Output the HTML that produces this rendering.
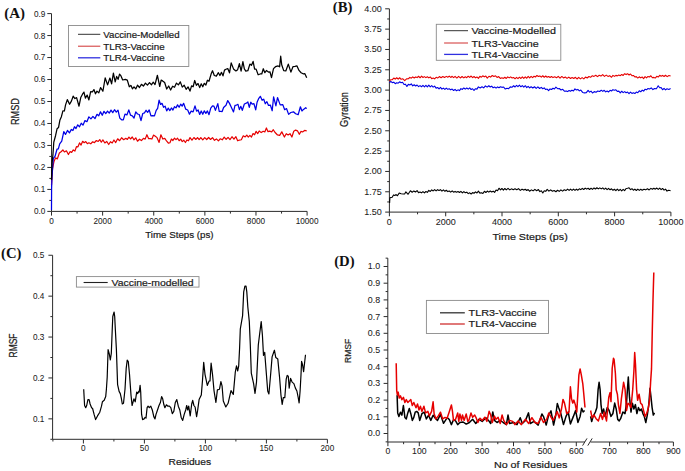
<!DOCTYPE html>
<html><head><meta charset="utf-8"><style>
html,body{margin:0;padding:0;background:#fff;width:685px;height:471px;overflow:hidden}
svg{display:block}

</style></head><body>
<svg width="685" height="471" viewBox="0 0 685 471">
<rect width="685" height="471" fill="#fff"/>
<line x1="51.50" y1="211.40" x2="51.50" y2="13.58" stroke="#2b2b2b" stroke-width="1"/>
<line x1="47.30" y1="211.40" x2="51.50" y2="211.40" stroke="#2b2b2b" stroke-width="1"/>
<line x1="47.30" y1="189.42" x2="51.50" y2="189.42" stroke="#2b2b2b" stroke-width="1"/>
<line x1="47.30" y1="167.44" x2="51.50" y2="167.44" stroke="#2b2b2b" stroke-width="1"/>
<line x1="47.30" y1="145.46" x2="51.50" y2="145.46" stroke="#2b2b2b" stroke-width="1"/>
<line x1="47.30" y1="123.48" x2="51.50" y2="123.48" stroke="#2b2b2b" stroke-width="1"/>
<line x1="47.30" y1="101.50" x2="51.50" y2="101.50" stroke="#2b2b2b" stroke-width="1"/>
<line x1="47.30" y1="79.52" x2="51.50" y2="79.52" stroke="#2b2b2b" stroke-width="1"/>
<line x1="47.30" y1="57.54" x2="51.50" y2="57.54" stroke="#2b2b2b" stroke-width="1"/>
<line x1="47.30" y1="35.56" x2="51.50" y2="35.56" stroke="#2b2b2b" stroke-width="1"/>
<line x1="47.30" y1="13.58" x2="51.50" y2="13.58" stroke="#2b2b2b" stroke-width="1"/>
<line x1="49.30" y1="200.41" x2="51.50" y2="200.41" stroke="#2b2b2b" stroke-width="1"/>
<line x1="49.30" y1="178.43" x2="51.50" y2="178.43" stroke="#2b2b2b" stroke-width="1"/>
<line x1="49.30" y1="156.45" x2="51.50" y2="156.45" stroke="#2b2b2b" stroke-width="1"/>
<line x1="49.30" y1="134.47" x2="51.50" y2="134.47" stroke="#2b2b2b" stroke-width="1"/>
<line x1="49.30" y1="112.49" x2="51.50" y2="112.49" stroke="#2b2b2b" stroke-width="1"/>
<line x1="49.30" y1="90.51" x2="51.50" y2="90.51" stroke="#2b2b2b" stroke-width="1"/>
<line x1="49.30" y1="68.53" x2="51.50" y2="68.53" stroke="#2b2b2b" stroke-width="1"/>
<line x1="49.30" y1="46.55" x2="51.50" y2="46.55" stroke="#2b2b2b" stroke-width="1"/>
<line x1="49.30" y1="24.57" x2="51.50" y2="24.57" stroke="#2b2b2b" stroke-width="1"/>
<text x="45.30" y="214.35" font-family="Liberation Sans, sans-serif" font-size="8.2" text-anchor="end" fill="#1a1a1a" stroke="#1a1a1a" stroke-width="0.05" >0.0</text>
<text x="45.30" y="192.37" font-family="Liberation Sans, sans-serif" font-size="8.2" text-anchor="end" fill="#1a1a1a" stroke="#1a1a1a" stroke-width="0.05" >0.1</text>
<text x="45.30" y="170.39" font-family="Liberation Sans, sans-serif" font-size="8.2" text-anchor="end" fill="#1a1a1a" stroke="#1a1a1a" stroke-width="0.05" >0.2</text>
<text x="45.30" y="148.41" font-family="Liberation Sans, sans-serif" font-size="8.2" text-anchor="end" fill="#1a1a1a" stroke="#1a1a1a" stroke-width="0.05" >0.3</text>
<text x="45.30" y="126.43" font-family="Liberation Sans, sans-serif" font-size="8.2" text-anchor="end" fill="#1a1a1a" stroke="#1a1a1a" stroke-width="0.05" >0.4</text>
<text x="45.30" y="104.45" font-family="Liberation Sans, sans-serif" font-size="8.2" text-anchor="end" fill="#1a1a1a" stroke="#1a1a1a" stroke-width="0.05" >0.5</text>
<text x="45.30" y="82.47" font-family="Liberation Sans, sans-serif" font-size="8.2" text-anchor="end" fill="#1a1a1a" stroke="#1a1a1a" stroke-width="0.05" >0.6</text>
<text x="45.30" y="60.49" font-family="Liberation Sans, sans-serif" font-size="8.2" text-anchor="end" fill="#1a1a1a" stroke="#1a1a1a" stroke-width="0.05" >0.7</text>
<text x="45.30" y="38.51" font-family="Liberation Sans, sans-serif" font-size="8.2" text-anchor="end" fill="#1a1a1a" stroke="#1a1a1a" stroke-width="0.05" >0.8</text>
<text x="45.30" y="16.53" font-family="Liberation Sans, sans-serif" font-size="8.2" text-anchor="end" fill="#1a1a1a" stroke="#1a1a1a" stroke-width="0.05" >0.9</text>
<line x1="51.50" y1="211.40" x2="307.10" y2="211.40" stroke="#2b2b2b" stroke-width="1"/>
<line x1="51.50" y1="211.40" x2="51.50" y2="215.60" stroke="#2b2b2b" stroke-width="1"/>
<line x1="102.62" y1="211.40" x2="102.62" y2="215.60" stroke="#2b2b2b" stroke-width="1"/>
<line x1="153.74" y1="211.40" x2="153.74" y2="215.60" stroke="#2b2b2b" stroke-width="1"/>
<line x1="204.86" y1="211.40" x2="204.86" y2="215.60" stroke="#2b2b2b" stroke-width="1"/>
<line x1="255.98" y1="211.40" x2="255.98" y2="215.60" stroke="#2b2b2b" stroke-width="1"/>
<line x1="307.10" y1="211.40" x2="307.10" y2="215.60" stroke="#2b2b2b" stroke-width="1"/>
<line x1="77.06" y1="211.40" x2="77.06" y2="213.60" stroke="#2b2b2b" stroke-width="1"/>
<line x1="128.18" y1="211.40" x2="128.18" y2="213.60" stroke="#2b2b2b" stroke-width="1"/>
<line x1="179.30" y1="211.40" x2="179.30" y2="213.60" stroke="#2b2b2b" stroke-width="1"/>
<line x1="230.42" y1="211.40" x2="230.42" y2="213.60" stroke="#2b2b2b" stroke-width="1"/>
<line x1="281.54" y1="211.40" x2="281.54" y2="213.60" stroke="#2b2b2b" stroke-width="1"/>
<text x="51.50" y="223.95" font-family="Liberation Sans, sans-serif" font-size="8.2" text-anchor="middle" fill="#1a1a1a" stroke="#1a1a1a" stroke-width="0.05" >0</text>
<text x="102.62" y="223.95" font-family="Liberation Sans, sans-serif" font-size="8.2" text-anchor="middle" fill="#1a1a1a" stroke="#1a1a1a" stroke-width="0.05" >2000</text>
<text x="153.74" y="223.95" font-family="Liberation Sans, sans-serif" font-size="8.2" text-anchor="middle" fill="#1a1a1a" stroke="#1a1a1a" stroke-width="0.05" >4000</text>
<text x="204.86" y="223.95" font-family="Liberation Sans, sans-serif" font-size="8.2" text-anchor="middle" fill="#1a1a1a" stroke="#1a1a1a" stroke-width="0.05" >6000</text>
<text x="255.98" y="223.95" font-family="Liberation Sans, sans-serif" font-size="8.2" text-anchor="middle" fill="#1a1a1a" stroke="#1a1a1a" stroke-width="0.05" >8000</text>
<text x="307.10" y="223.95" font-family="Liberation Sans, sans-serif" font-size="8.2" text-anchor="middle" fill="#1a1a1a" stroke="#1a1a1a" stroke-width="0.05" >10000</text>
<text x="179.40" y="238.20" font-family="Liberation Sans, sans-serif" font-size="9.6" text-anchor="middle" fill="#1a1a1a" stroke="#1a1a1a" stroke-width="0.2" textLength="68.3" lengthAdjust="spacingAndGlyphs" >Time Steps (ps)</text>
<text x="0.00" y="0.00" font-family="Liberation Sans, sans-serif" font-size="9.0" text-anchor="middle" fill="#1a1a1a" stroke="#1a1a1a" stroke-width="0.2" textLength="27.0" lengthAdjust="spacingAndGlyphs" transform="translate(19.2,111.6) rotate(-90) scale(1,1.15)">RMSD</text>
<text x="4.3" y="17.6" font-family="Liberation Serif, serif" font-weight="bold" font-size="14.3" fill="#111" textLength="20.8" lengthAdjust="spacingAndGlyphs">(A)</text>
<rect x="68.5" y="25.5" width="120.3" height="41" fill="#fff" stroke="#8a8a8a" stroke-width="0.9"/>
<line x1="78.00" y1="34.30" x2="100.30" y2="34.30" stroke="#333" stroke-width="1.0"/>
<text x="103.30" y="37.70" font-family="Liberation Sans, sans-serif" font-size="9.4" text-anchor="start" fill="#1a1a1a" stroke="#1a1a1a" stroke-width="0.2" textLength="76.3" lengthAdjust="spacingAndGlyphs" >Vaccine-Modelled</text>
<line x1="78.00" y1="46.20" x2="100.30" y2="46.20" stroke="#d03030" stroke-width="1.0"/>
<text x="103.30" y="49.60" font-family="Liberation Sans, sans-serif" font-size="9.4" text-anchor="start" fill="#1a1a1a" stroke="#1a1a1a" stroke-width="0.2" textLength="61.3" lengthAdjust="spacingAndGlyphs" >TLR3-Vaccine</text>
<line x1="78.00" y1="57.80" x2="100.30" y2="57.80" stroke="#3030e0" stroke-width="1.3"/>
<text x="103.30" y="61.20" font-family="Liberation Sans, sans-serif" font-size="9.4" text-anchor="start" fill="#1a1a1a" stroke="#1a1a1a" stroke-width="0.2" textLength="61.3" lengthAdjust="spacingAndGlyphs" >TLR4-Vaccine</text>
<path d="M51.50,185.00 L52.50,168.97 L53.90,161.84 L55.60,157.78 L57.30,158.94 L59.35,153.01 L61.40,151.47 L62.90,149.85 L64.40,151.99 L66.40,150.83 L68.40,154.58 L70.03,151.67 L71.65,152.33 L73.28,149.92 L74.90,151.10 L76.43,146.69 L77.97,146.84 L79.50,142.92 L81.07,145.06 L82.63,141.26 L84.20,142.70 L85.77,141.58 L87.33,143.68 L88.90,142.79 L90.76,143.82 L92.62,141.74 L94.48,142.61 L96.34,140.51 L98.20,141.44 L99.77,139.58 L101.33,142.24 L102.90,139.90 L104.83,142.99 L106.77,141.45 L108.70,144.55 L110.45,141.69 L112.20,143.00 L113.95,139.98 L115.70,142.60 L117.67,138.77 L119.63,140.70 L121.60,137.71 L123.70,139.70 L125.80,138.34 L127.37,139.43 L128.93,137.04 L130.50,138.98 L132.25,137.01 L134.00,139.86 L135.75,137.79 L137.50,141.24 L139.47,139.24 L141.43,140.58 L143.40,138.29 L145.15,139.10 L146.90,134.72 L148.65,138.72 L150.40,138.56 L151.93,139.05 L153.47,135.10 L155.00,135.94 L157.05,137.65 L159.10,142.41 L160.90,134.74 L162.83,139.02 L164.77,138.35 L166.70,141.22 L168.50,143.23 L169.95,142.77 L171.40,139.01 L172.93,140.54 L174.47,138.06 L176.00,139.63 L177.57,138.24 L179.13,140.72 L180.70,139.10 L182.27,141.60 L183.83,140.25 L185.40,142.50 L186.93,139.95 L188.47,140.81 L190.00,137.63 L191.97,140.20 L193.93,137.52 L195.90,139.48 L197.53,137.55 L199.17,139.64 L200.80,137.55 L202.77,139.86 L204.73,137.60 L206.70,139.49 L208.63,137.48 L210.57,139.46 L212.50,137.64 L214.47,140.30 L216.43,138.93 L218.40,140.84 L220.33,138.78 L222.27,139.83 L224.20,137.09 L226.13,139.29 L228.07,137.35 L230.00,139.53 L231.97,136.74 L233.93,139.16 L235.90,136.74 L237.65,140.81 L239.40,140.05 L241.33,139.75 L243.27,135.76 L245.20,136.91 L246.77,135.08 L248.33,137.06 L249.90,135.37 L251.47,137.07 L253.03,133.60 L254.60,134.75 L256.13,131.32 L257.67,133.59 L259.20,131.00 L261.20,132.62 L263.20,131.30 L264.80,131.91 L266.40,127.99 L268.00,131.64 L269.60,131.07 L271.70,131.82 L273.30,129.72 L274.90,132.27 L277.50,134.96 L279.65,135.41 L281.80,131.87 L284.40,137.00 L286.25,133.71 L288.10,134.95 L290.00,133.65 L291.90,137.05 L293.75,131.24 L295.60,130.07 L297.45,130.82 L299.30,134.34 L300.90,131.43 L302.50,132.02 L304.60,130.41 L306.70,130.90" fill="none" stroke="#e60000" stroke-width="1.2" stroke-linejoin="round"/>
<path d="M51.50,210.00 L51.60,188.55 L52.00,176.71 L53.30,158.48 L55.00,156.47 L57.00,149.21 L58.35,148.81 L59.70,143.84 L61.75,141.13 L63.80,131.64 L65.50,134.43 L67.47,130.43 L69.43,132.92 L71.40,129.42 L72.93,130.47 L74.47,126.73 L76.00,128.47 L77.75,124.80 L79.50,126.84 L81.25,123.27 L83.00,125.15 L84.97,120.61 L86.93,121.68 L88.90,116.83 L90.93,118.85 L92.95,116.44 L94.97,118.63 L97.00,114.30 L98.75,115.83 L100.50,111.87 L102.25,115.30 L104.00,111.37 L105.75,113.55 L107.50,111.09 L109.25,113.14 L111.00,110.14 L112.75,112.65 L114.50,109.73 L116.25,112.19 L118.00,110.19 L119.80,118.09 L121.60,119.76 L123.30,119.82 L125.00,114.18 L126.90,114.95 L128.80,109.88 L130.55,115.21 L132.30,115.79 L134.03,117.99 L135.77,111.90 L137.50,114.02 L139.25,114.52 L141.00,120.59 L142.75,113.49 L144.50,112.93 L146.07,110.27 L147.63,112.31 L149.20,109.91 L150.95,115.90 L152.70,115.67 L154.45,115.89 L156.20,110.39 L157.65,108.30 L159.10,100.11 L160.55,104.46 L162.00,103.31 L163.57,107.31 L165.13,106.14 L166.70,110.87 L168.27,108.08 L169.83,110.56 L171.40,107.98 L172.93,110.00 L174.47,106.64 L176.00,107.87 L177.57,104.87 L179.13,107.25 L180.70,104.16 L182.15,106.13 L183.60,103.33 L185.65,109.07 L187.70,109.95 L189.45,114.14 L191.20,111.14 L193.10,111.89 L195.00,105.89 L196.57,111.16 L198.13,109.94 L199.70,114.44 L201.23,110.96 L202.77,114.27 L204.30,110.82 L205.87,113.35 L207.43,110.93 L209.00,114.66 L210.75,108.18 L212.50,105.98 L213.95,106.12 L215.40,110.36 L217.80,103.62 L219.25,111.50 L220.70,111.31 L222.15,111.55 L223.60,107.47 L226.00,105.30 L227.75,100.59 L229.50,103.38 L231.20,107.00 L233.50,111.92 L235.00,105.45 L236.50,105.07 L237.95,104.30 L239.40,109.62 L240.85,106.35 L242.30,110.30 L244.35,104.01 L246.40,103.12 L247.85,101.98 L249.30,107.32 L250.75,102.24 L252.20,104.07 L253.95,103.72 L255.70,109.78 L257.15,101.97 L258.60,98.73 L260.35,96.30 L262.10,100.26 L263.70,99.14 L265.30,103.74 L266.90,101.63 L268.50,105.41 L270.35,105.06 L272.20,110.77 L273.60,96.93 L275.90,105.96 L277.50,97.51 L280.20,104.85 L282.80,104.64 L284.65,109.72 L286.50,108.59 L288.65,114.36 L290.80,112.50 L293.50,111.80 L295.60,113.73 L298.20,114.70 L300.40,106.78 L301.95,110.98 L303.50,109.41 L305.70,107.69 L306.70,108.60" fill="none" stroke="#0000e6" stroke-width="1.25" stroke-linejoin="round"/>
<path d="M51.50,180.00 L52.00,163.81 L53.00,153.83 L53.80,142.07 L55.60,135.47 L57.05,128.82 L58.50,127.55 L59.95,119.92 L61.40,116.64 L62.90,110.85 L64.40,111.00 L65.50,105.10 L67.30,99.62 L69.60,104.25 L71.40,101.15 L73.15,96.19 L74.90,98.51 L76.60,97.67 L79.00,106.22 L80.75,97.53 L82.50,94.21 L83.95,92.13 L85.40,98.21 L87.15,95.06 L88.90,99.92 L90.65,91.68 L92.40,91.79 L93.93,89.58 L95.47,93.81 L97.00,91.17 L98.80,92.88 L100.60,87.55 L102.90,91.25 L105.20,77.95 L107.60,84.85 L109.90,78.03 L111.60,83.78 L113.40,73.17 L115.20,81.90 L116.65,76.42 L118.10,79.34 L119.55,74.12 L121.00,75.92 L122.70,79.99 L125.30,79.32 L127.30,80.13 L129.30,86.77 L130.87,85.36 L132.43,88.82 L134.00,86.82 L135.75,88.94 L137.50,85.19 L139.47,87.50 L141.43,84.30 L143.40,86.04 L145.43,83.07 L147.45,85.11 L149.47,82.58 L151.50,84.75 L153.25,82.19 L155.00,84.58 L157.40,75.27 L159.70,86.49 L161.15,80.02 L162.60,80.90 L164.65,82.48 L166.70,89.02 L168.67,85.99 L170.63,90.06 L172.60,86.24 L174.53,87.31 L176.47,83.11 L178.40,84.90 L180.33,81.84 L182.27,87.14 L184.20,85.19 L186.13,89.35 L188.07,86.87 L190.00,91.08 L191.57,85.86 L193.13,86.79 L194.70,80.49 L196.37,85.32 L198.03,83.55 L199.70,87.63 L201.23,83.83 L202.77,86.79 L204.30,83.36 L205.87,85.03 L207.43,80.25 L209.00,81.25 L211.40,73.15 L212.50,70.73 L214.30,75.53 L216.35,76.19 L218.40,72.69 L219.93,75.57 L221.47,72.36 L223.00,75.82 L224.50,70.14 L226.00,69.26 L227.75,68.53 L229.50,72.84 L231.20,62.89 L233.50,68.90 L235.90,70.91 L237.65,69.66 L239.40,63.69 L241.10,71.20 L242.90,61.58 L244.35,68.96 L245.80,71.05 L247.85,70.70 L249.90,64.09 L251.50,65.26 L253.10,61.45 L254.60,69.10 L256.10,69.12 L258.15,74.76 L260.20,73.99 L261.75,73.95 L263.30,68.75 L264.85,72.70 L266.40,70.53 L268.40,72.01 L269.95,71.76 L271.50,77.63 L273.50,68.63 L275.50,66.69 L278.10,65.92 L279.60,66.84 L280.70,56.23 L281.70,64.73 L283.70,70.59 L285.80,70.93 L288.30,64.14 L290.90,72.10 L292.95,66.67 L295.00,66.44 L297.00,65.90 L299.00,70.41 L301.10,72.74 L303.10,73.79 L304.90,73.73 L306.70,77.80" fill="none" stroke="#000" stroke-width="1.25" stroke-linejoin="round"/>
<line x1="389.40" y1="212.10" x2="389.40" y2="8.80" stroke="#2b2b2b" stroke-width="1"/>
<line x1="385.20" y1="212.10" x2="389.40" y2="212.10" stroke="#2b2b2b" stroke-width="1"/>
<line x1="385.20" y1="191.77" x2="389.40" y2="191.77" stroke="#2b2b2b" stroke-width="1"/>
<line x1="385.20" y1="171.44" x2="389.40" y2="171.44" stroke="#2b2b2b" stroke-width="1"/>
<line x1="385.20" y1="151.11" x2="389.40" y2="151.11" stroke="#2b2b2b" stroke-width="1"/>
<line x1="385.20" y1="130.78" x2="389.40" y2="130.78" stroke="#2b2b2b" stroke-width="1"/>
<line x1="385.20" y1="110.45" x2="389.40" y2="110.45" stroke="#2b2b2b" stroke-width="1"/>
<line x1="385.20" y1="90.12" x2="389.40" y2="90.12" stroke="#2b2b2b" stroke-width="1"/>
<line x1="385.20" y1="69.79" x2="389.40" y2="69.79" stroke="#2b2b2b" stroke-width="1"/>
<line x1="385.20" y1="49.46" x2="389.40" y2="49.46" stroke="#2b2b2b" stroke-width="1"/>
<line x1="385.20" y1="29.13" x2="389.40" y2="29.13" stroke="#2b2b2b" stroke-width="1"/>
<line x1="385.20" y1="8.80" x2="389.40" y2="8.80" stroke="#2b2b2b" stroke-width="1"/>
<line x1="387.20" y1="201.94" x2="389.40" y2="201.94" stroke="#2b2b2b" stroke-width="1"/>
<line x1="387.20" y1="181.60" x2="389.40" y2="181.60" stroke="#2b2b2b" stroke-width="1"/>
<line x1="387.20" y1="161.28" x2="389.40" y2="161.28" stroke="#2b2b2b" stroke-width="1"/>
<line x1="387.20" y1="140.94" x2="389.40" y2="140.94" stroke="#2b2b2b" stroke-width="1"/>
<line x1="387.20" y1="120.62" x2="389.40" y2="120.62" stroke="#2b2b2b" stroke-width="1"/>
<line x1="387.20" y1="100.28" x2="389.40" y2="100.28" stroke="#2b2b2b" stroke-width="1"/>
<line x1="387.20" y1="79.96" x2="389.40" y2="79.96" stroke="#2b2b2b" stroke-width="1"/>
<line x1="387.20" y1="59.62" x2="389.40" y2="59.62" stroke="#2b2b2b" stroke-width="1"/>
<line x1="387.20" y1="39.30" x2="389.40" y2="39.30" stroke="#2b2b2b" stroke-width="1"/>
<line x1="387.20" y1="18.97" x2="389.40" y2="18.97" stroke="#2b2b2b" stroke-width="1"/>
<text x="381.80" y="215.05" font-family="Liberation Sans, sans-serif" font-size="8.2" text-anchor="end" fill="#1a1a1a" stroke="#1a1a1a" stroke-width="0.05" textLength="17.55" lengthAdjust="spacingAndGlyphs" >1.50</text>
<text x="381.80" y="194.72" font-family="Liberation Sans, sans-serif" font-size="8.2" text-anchor="end" fill="#1a1a1a" stroke="#1a1a1a" stroke-width="0.05" textLength="17.55" lengthAdjust="spacingAndGlyphs" >1.75</text>
<text x="381.80" y="174.39" font-family="Liberation Sans, sans-serif" font-size="8.2" text-anchor="end" fill="#1a1a1a" stroke="#1a1a1a" stroke-width="0.05" textLength="17.55" lengthAdjust="spacingAndGlyphs" >2.00</text>
<text x="381.80" y="154.06" font-family="Liberation Sans, sans-serif" font-size="8.2" text-anchor="end" fill="#1a1a1a" stroke="#1a1a1a" stroke-width="0.05" textLength="17.55" lengthAdjust="spacingAndGlyphs" >2.25</text>
<text x="381.80" y="133.73" font-family="Liberation Sans, sans-serif" font-size="8.2" text-anchor="end" fill="#1a1a1a" stroke="#1a1a1a" stroke-width="0.05" textLength="17.55" lengthAdjust="spacingAndGlyphs" >2.50</text>
<text x="381.80" y="113.40" font-family="Liberation Sans, sans-serif" font-size="8.2" text-anchor="end" fill="#1a1a1a" stroke="#1a1a1a" stroke-width="0.05" textLength="17.55" lengthAdjust="spacingAndGlyphs" >2.75</text>
<text x="381.80" y="93.07" font-family="Liberation Sans, sans-serif" font-size="8.2" text-anchor="end" fill="#1a1a1a" stroke="#1a1a1a" stroke-width="0.05" textLength="17.55" lengthAdjust="spacingAndGlyphs" >3.00</text>
<text x="381.80" y="72.74" font-family="Liberation Sans, sans-serif" font-size="8.2" text-anchor="end" fill="#1a1a1a" stroke="#1a1a1a" stroke-width="0.05" textLength="17.55" lengthAdjust="spacingAndGlyphs" >3.25</text>
<text x="381.80" y="52.41" font-family="Liberation Sans, sans-serif" font-size="8.2" text-anchor="end" fill="#1a1a1a" stroke="#1a1a1a" stroke-width="0.05" textLength="17.55" lengthAdjust="spacingAndGlyphs" >3.50</text>
<text x="381.80" y="32.08" font-family="Liberation Sans, sans-serif" font-size="8.2" text-anchor="end" fill="#1a1a1a" stroke="#1a1a1a" stroke-width="0.05" textLength="17.55" lengthAdjust="spacingAndGlyphs" >3.75</text>
<text x="381.80" y="11.75" font-family="Liberation Sans, sans-serif" font-size="8.2" text-anchor="end" fill="#1a1a1a" stroke="#1a1a1a" stroke-width="0.05" textLength="17.55" lengthAdjust="spacingAndGlyphs" >4.00</text>
<line x1="389.40" y1="212.10" x2="670.90" y2="212.10" stroke="#2b2b2b" stroke-width="1"/>
<line x1="389.40" y1="212.10" x2="389.40" y2="216.30" stroke="#2b2b2b" stroke-width="1"/>
<line x1="445.70" y1="212.10" x2="445.70" y2="216.30" stroke="#2b2b2b" stroke-width="1"/>
<line x1="502.00" y1="212.10" x2="502.00" y2="216.30" stroke="#2b2b2b" stroke-width="1"/>
<line x1="558.30" y1="212.10" x2="558.30" y2="216.30" stroke="#2b2b2b" stroke-width="1"/>
<line x1="614.60" y1="212.10" x2="614.60" y2="216.30" stroke="#2b2b2b" stroke-width="1"/>
<line x1="670.90" y1="212.10" x2="670.90" y2="216.30" stroke="#2b2b2b" stroke-width="1"/>
<line x1="417.55" y1="212.10" x2="417.55" y2="214.30" stroke="#2b2b2b" stroke-width="1"/>
<line x1="473.85" y1="212.10" x2="473.85" y2="214.30" stroke="#2b2b2b" stroke-width="1"/>
<line x1="530.15" y1="212.10" x2="530.15" y2="214.30" stroke="#2b2b2b" stroke-width="1"/>
<line x1="586.45" y1="212.10" x2="586.45" y2="214.30" stroke="#2b2b2b" stroke-width="1"/>
<line x1="642.75" y1="212.10" x2="642.75" y2="214.30" stroke="#2b2b2b" stroke-width="1"/>
<text x="389.40" y="225.05" font-family="Liberation Sans, sans-serif" font-size="8.2" text-anchor="middle" fill="#1a1a1a" stroke="#1a1a1a" stroke-width="0.05" textLength="5.02" lengthAdjust="spacingAndGlyphs" >0</text>
<text x="445.70" y="225.05" font-family="Liberation Sans, sans-serif" font-size="8.2" text-anchor="middle" fill="#1a1a1a" stroke="#1a1a1a" stroke-width="0.05" textLength="20.06" lengthAdjust="spacingAndGlyphs" >2000</text>
<text x="502.00" y="225.05" font-family="Liberation Sans, sans-serif" font-size="8.2" text-anchor="middle" fill="#1a1a1a" stroke="#1a1a1a" stroke-width="0.05" textLength="20.06" lengthAdjust="spacingAndGlyphs" >4000</text>
<text x="558.30" y="225.05" font-family="Liberation Sans, sans-serif" font-size="8.2" text-anchor="middle" fill="#1a1a1a" stroke="#1a1a1a" stroke-width="0.05" textLength="20.06" lengthAdjust="spacingAndGlyphs" >6000</text>
<text x="614.60" y="225.05" font-family="Liberation Sans, sans-serif" font-size="8.2" text-anchor="middle" fill="#1a1a1a" stroke="#1a1a1a" stroke-width="0.05" textLength="20.06" lengthAdjust="spacingAndGlyphs" >8000</text>
<text x="670.90" y="225.05" font-family="Liberation Sans, sans-serif" font-size="8.2" text-anchor="middle" fill="#1a1a1a" stroke="#1a1a1a" stroke-width="0.05" textLength="25.08" lengthAdjust="spacingAndGlyphs" >10000</text>
<text x="530.10" y="240.40" font-family="Liberation Sans, sans-serif" font-size="9.8" text-anchor="middle" fill="#1a1a1a" stroke="#1a1a1a" stroke-width="0.2" textLength="75.4" lengthAdjust="spacingAndGlyphs" >Time Steps (ps)</text>
<text x="0.00" y="0.00" font-family="Liberation Sans, sans-serif" font-size="9.2" text-anchor="middle" fill="#1a1a1a" stroke="#1a1a1a" stroke-width="0.2" textLength="34.8" lengthAdjust="spacingAndGlyphs" transform="translate(347.8,109.5) rotate(-90) scale(1,1.18)">Gyration</text>
<text x="332.8" y="12.0" font-family="Liberation Serif, serif" font-weight="bold" font-size="14" fill="#111" textLength="19.6" lengthAdjust="spacingAndGlyphs">(B)</text>
<rect x="436.3" y="24.3" width="124.5" height="36" fill="#fff" stroke="#8a8a8a" stroke-width="0.9"/>
<line x1="444.10" y1="30.70" x2="468.00" y2="30.70" stroke="#333" stroke-width="1.0"/>
<text x="471.50" y="34.20" font-family="Liberation Sans, sans-serif" font-size="9.6" text-anchor="start" fill="#1a1a1a" stroke="#1a1a1a" stroke-width="0.2" textLength="84.4" lengthAdjust="spacingAndGlyphs" >Vaccine-Modelled</text>
<line x1="444.10" y1="43.00" x2="468.00" y2="43.00" stroke="#d03030" stroke-width="1.0"/>
<text x="471.50" y="46.50" font-family="Liberation Sans, sans-serif" font-size="9.6" text-anchor="start" fill="#1a1a1a" stroke="#1a1a1a" stroke-width="0.2" textLength="67.1" lengthAdjust="spacingAndGlyphs" >TLR3-Vaccine</text>
<line x1="444.10" y1="54.40" x2="468.00" y2="54.40" stroke="#3030e0" stroke-width="1.3"/>
<text x="471.50" y="57.90" font-family="Liberation Sans, sans-serif" font-size="9.6" text-anchor="start" fill="#1a1a1a" stroke="#1a1a1a" stroke-width="0.2" textLength="67.1" lengthAdjust="spacingAndGlyphs" >TLR4-Vaccine</text>
<path d="M389.40,81.20 L390.85,79.69 L392.30,79.72 L393.77,78.05 L395.23,79.06 L396.70,77.76 L398.17,79.15 L399.63,77.75 L401.10,79.31 L402.90,78.79 L404.70,80.55 L406.55,78.83 L408.40,78.73 L409.85,77.37 L411.30,78.21 L412.75,76.90 L414.20,77.95 L415.67,76.93 L417.13,77.61 L418.60,76.25 L420.07,77.78 L421.53,76.09 L423.00,77.48 L424.45,76.64 L425.90,77.66 L427.35,76.72 L428.80,77.88 L430.27,76.96 L431.73,78.70 L433.20,78.09 L434.67,78.86 L436.13,77.25 L437.60,78.06 L439.34,76.54 L441.08,77.68 L442.82,76.44 L444.56,77.48 L446.30,76.38 L447.77,77.20 L449.23,76.11 L450.70,77.45 L452.17,76.30 L453.63,77.57 L455.10,76.32 L456.84,78.04 L458.58,76.44 L460.32,77.96 L462.06,76.55 L463.80,77.94 L465.27,76.75 L466.73,77.66 L468.20,76.20 L469.67,77.37 L471.13,76.01 L472.60,77.63 L474.05,76.50 L475.50,77.83 L476.95,76.97 L478.40,78.34 L479.87,76.34 L481.33,77.21 L482.80,75.77 L484.30,76.84 L485.80,76.10 L487.30,78.10 L488.95,76.24 L490.60,77.10 L492.25,75.51 L493.90,76.55 L495.50,75.84 L497.10,77.43 L498.70,76.60 L500.30,78.40 L501.90,77.78 L503.36,78.41 L504.82,77.28 L506.28,78.46 L507.74,76.88 L509.20,77.86 L510.66,76.91 L512.12,77.98 L513.58,77.45 L515.04,78.79 L516.50,77.43 L517.96,78.59 L519.42,77.21 L520.88,78.49 L522.34,76.80 L523.80,78.38 L525.26,76.89 L526.72,78.27 L528.18,76.44 L529.64,77.92 L531.10,76.37 L532.56,77.58 L534.02,76.23 L535.48,77.00 L536.94,75.49 L538.40,76.51 L539.86,75.88 L541.32,77.17 L542.78,75.75 L544.24,77.26 L545.70,76.00 L547.16,77.23 L548.62,76.49 L550.08,77.52 L551.54,76.56 L553.00,77.61 L554.76,76.84 L556.52,77.71 L558.28,76.36 L560.04,78.09 L561.80,76.45 L563.54,77.92 L565.28,76.98 L567.02,78.44 L568.76,77.06 L570.50,78.54 L572.12,77.57 L573.75,78.44 L575.38,77.29 L577.00,78.98 L578.70,77.37 L580.40,78.87 L582.10,77.64 L583.80,78.85 L585.50,77.04 L587.20,78.00 L588.90,76.52 L590.60,77.28 L592.30,75.69 L594.00,76.42 L595.74,75.22 L597.48,76.65 L599.22,75.29 L600.96,76.12 L602.70,74.61 L604.46,76.33 L606.22,75.08 L607.98,76.43 L609.74,75.63 L611.50,77.28 L612.96,75.34 L614.42,76.35 L615.88,75.37 L617.34,75.89 L618.80,74.97 L620.26,75.66 L621.72,74.46 L623.18,75.46 L624.64,73.72 L626.10,74.59 L627.57,73.70 L629.03,74.97 L630.50,74.00 L631.95,75.69 L633.40,75.49 L634.85,76.97 L636.30,76.66 L637.76,78.05 L639.22,76.80 L640.68,77.90 L642.14,76.95 L643.60,78.63 L645.06,76.69 L646.52,77.90 L647.98,76.46 L649.44,77.03 L650.90,75.75 L652.35,77.71 L653.80,77.38 L655.27,78.03 L656.75,76.34 L658.23,77.02 L659.70,75.30 L661.15,76.21 L662.60,75.41 L664.05,76.52 L665.50,75.26 L667.20,76.59 L668.90,75.49 L670.60,76.10" fill="none" stroke="#e60000" stroke-width="1.1" stroke-linejoin="round"/>
<path d="M389.40,82.60 L390.85,81.52 L392.30,82.60 L393.77,82.17 L395.23,83.70 L396.70,82.68 L398.17,83.19 L399.63,81.80 L401.10,82.72 L402.55,82.31 L404.00,84.55 L405.45,84.17 L406.90,86.50 L408.35,84.38 L409.80,84.96 L411.27,83.85 L412.73,85.89 L414.20,84.77 L415.66,86.00 L417.12,84.99 L418.58,86.64 L420.04,85.64 L421.50,86.73 L422.96,85.43 L424.42,86.84 L425.88,85.26 L427.34,86.83 L428.80,85.12 L430.25,86.80 L431.70,85.58 L433.15,87.12 L434.60,86.13 L436.10,88.17 L437.60,87.50 L439.05,88.90 L440.50,87.38 L441.95,89.07 L443.40,88.10 L444.86,89.44 L446.32,88.07 L447.78,89.34 L449.24,88.72 L450.70,89.83 L452.16,89.11 L453.62,90.54 L455.08,89.31 L456.54,90.78 L458.00,89.85 L459.45,90.63 L460.90,88.60 L462.35,89.47 L463.80,87.97 L465.27,89.16 L466.75,88.01 L468.23,89.16 L469.70,87.87 L471.13,89.54 L472.57,88.72 L474.00,90.52 L475.47,88.70 L476.93,89.13 L478.40,86.88 L480.20,87.92 L482.00,86.75 L483.70,87.91 L485.40,85.93 L487.10,87.16 L488.80,85.75 L490.25,87.02 L491.70,86.16 L493.15,87.77 L494.60,87.07 L496.06,88.08 L497.52,86.91 L498.98,87.80 L500.44,86.71 L501.90,87.34 L503.60,87.01 L505.30,89.05 L507.00,88.21 L508.65,88.68 L510.30,86.88 L511.95,87.30 L513.60,85.74 L515.05,87.02 L516.50,85.30 L517.95,86.66 L519.40,85.19 L520.88,86.76 L522.35,85.68 L523.82,87.11 L525.30,85.71 L526.75,87.55 L528.20,86.41 L529.65,87.94 L531.10,86.71 L532.80,87.97 L534.50,86.73 L536.20,88.34 L537.90,86.93 L539.60,88.52 L541.30,87.37 L542.76,88.75 L544.22,87.89 L545.68,89.53 L547.14,89.04 L548.60,90.62 L550.06,88.89 L551.52,89.49 L552.98,88.24 L554.44,89.02 L555.90,87.18 L557.60,88.70 L559.30,88.49 L561.00,90.01 L562.70,89.34 L564.40,91.20 L566.10,90.92 L567.58,91.60 L569.05,90.46 L570.52,91.31 L572.00,90.18 L573.47,90.94 L574.93,88.84 L576.40,90.00 L577.87,89.43 L579.33,90.87 L580.80,90.09 L582.65,92.43 L584.50,92.87 L586.30,92.70 L588.10,90.36 L589.57,92.15 L591.03,91.16 L592.50,92.99 L594.26,91.64 L596.02,92.25 L597.78,91.03 L599.54,91.55 L601.30,90.20 L602.76,91.41 L604.22,90.26 L605.68,91.89 L607.14,90.95 L608.60,92.01 L610.05,90.36 L611.50,90.99 L612.95,89.68 L614.40,90.23 L615.87,89.77 L617.33,91.48 L618.80,91.12 L620.26,92.81 L621.72,91.23 L623.18,92.61 L624.64,91.65 L626.10,92.80 L627.56,92.06 L629.02,93.58 L630.48,92.15 L631.94,93.44 L633.40,92.76 L634.87,93.56 L636.33,92.02 L637.80,92.78 L639.27,90.73 L640.73,91.77 L642.20,90.17 L643.66,91.07 L645.12,89.20 L646.58,89.81 L648.04,88.46 L649.50,88.91 L651.20,87.93 L652.90,89.58 L654.60,88.48 L656.40,88.69 L658.20,85.72 L659.67,87.79 L661.13,87.58 L662.60,89.73 L664.07,88.34 L665.53,89.84 L667.00,88.80 L668.80,89.43 L670.60,88.50" fill="none" stroke="#0000e6" stroke-width="1.1" stroke-linejoin="round"/>
<path d="M389.60,203.00 L389.90,197.74 L392.20,197.17 L393.50,194.91 L394.80,195.56 L396.10,194.54 L397.40,195.76 L399.20,193.07 L401.10,193.79 L403.30,194.07 L404.60,193.98 L405.90,191.86 L408.10,194.28 L410.40,190.77 L412.20,192.27 L413.83,190.94 L415.47,191.99 L417.10,190.59 L418.55,192.64 L420.00,192.07 L421.48,192.85 L422.95,191.63 L424.42,192.96 L425.90,191.50 L427.35,192.38 L428.80,190.32 L430.27,191.46 L431.73,189.91 L433.20,190.93 L434.65,189.68 L436.10,190.95 L437.55,189.68 L439.00,190.47 L440.48,189.66 L441.95,191.13 L443.42,189.89 L444.90,191.28 L446.35,190.23 L447.80,191.57 L449.25,190.96 L450.70,192.10 L452.16,190.87 L453.62,192.15 L455.08,191.40 L456.54,192.21 L458.00,191.56 L459.46,192.44 L460.92,191.37 L462.38,192.88 L463.84,191.63 L465.30,192.73 L466.77,192.18 L468.23,193.63 L469.70,192.83 L471.15,193.99 L472.60,192.63 L474.05,193.23 L475.50,191.83 L476.95,192.98 L478.40,191.10 L479.90,193.10 L481.40,192.77 L482.90,193.50 L484.40,191.24 L485.87,192.53 L487.33,191.02 L488.80,192.09 L490.25,190.95 L491.70,191.96 L493.15,191.17 L494.60,192.39 L496.07,190.02 L497.53,190.75 L499.00,188.21 L500.46,189.93 L501.92,188.49 L503.38,190.07 L504.84,188.49 L506.30,189.82 L508.04,188.41 L509.78,189.84 L511.52,188.87 L513.26,189.66 L515.00,188.71 L516.76,189.81 L518.52,188.60 L520.28,190.41 L522.04,189.18 L523.80,190.08 L525.25,189.25 L526.70,190.46 L528.15,189.59 L529.60,191.19 L531.36,189.88 L533.12,190.84 L534.88,189.38 L536.64,190.74 L538.40,189.58 L539.87,191.64 L541.33,190.71 L542.80,193.04 L544.27,190.78 L545.73,191.36 L547.20,189.38 L548.94,191.12 L550.68,189.85 L552.42,191.21 L554.16,190.49 L555.90,191.75 L557.57,190.22 L559.24,191.41 L560.91,189.92 L562.59,191.14 L564.26,189.75 L565.93,190.60 L567.60,189.19 L569.08,190.42 L570.56,189.06 L572.04,190.40 L573.52,189.15 L575.00,190.46 L576.45,189.18 L577.90,190.18 L579.35,188.82 L580.80,189.64 L582.27,188.36 L583.73,189.48 L585.20,188.11 L586.67,189.12 L588.13,188.21 L589.60,189.47 L591.06,188.20 L592.52,189.32 L593.98,187.97 L595.44,189.01 L596.90,187.78 L598.36,188.88 L599.82,187.84 L601.28,188.86 L602.74,187.88 L604.20,189.30 L605.66,188.10 L607.12,189.57 L608.58,188.42 L610.04,189.80 L611.50,188.81 L612.96,190.30 L614.42,189.25 L615.88,190.61 L617.34,189.12 L618.80,190.71 L620.25,189.33 L621.70,190.81 L623.15,189.43 L624.60,190.59 L626.10,188.45 L627.60,188.32 L629.05,187.78 L630.50,189.63 L631.95,188.71 L633.40,190.24 L634.87,189.14 L636.33,190.49 L637.80,189.11 L639.27,190.34 L640.73,189.24 L642.20,190.18 L643.94,189.19 L645.68,189.86 L647.42,188.81 L649.16,189.95 L650.90,188.39 L652.38,189.30 L653.85,188.26 L655.32,189.16 L656.80,188.05 L658.25,189.42 L659.70,188.18 L661.15,189.62 L662.60,188.49 L664.07,190.13 L665.53,189.14 L667.00,191.09 L668.80,190.21 L670.60,190.70" fill="none" stroke="#000" stroke-width="1.1" stroke-linejoin="round"/>
<line x1="52.60" y1="439.30" x2="52.60" y2="255.25" stroke="#2b2b2b" stroke-width="1"/>
<line x1="48.40" y1="418.85" x2="52.60" y2="418.85" stroke="#2b2b2b" stroke-width="1"/>
<line x1="48.40" y1="377.95" x2="52.60" y2="377.95" stroke="#2b2b2b" stroke-width="1"/>
<line x1="48.40" y1="337.05" x2="52.60" y2="337.05" stroke="#2b2b2b" stroke-width="1"/>
<line x1="48.40" y1="296.15" x2="52.60" y2="296.15" stroke="#2b2b2b" stroke-width="1"/>
<line x1="48.40" y1="255.25" x2="52.60" y2="255.25" stroke="#2b2b2b" stroke-width="1"/>
<line x1="50.40" y1="439.30" x2="52.60" y2="439.30" stroke="#2b2b2b" stroke-width="1"/>
<line x1="50.40" y1="398.40" x2="52.60" y2="398.40" stroke="#2b2b2b" stroke-width="1"/>
<line x1="50.40" y1="357.50" x2="52.60" y2="357.50" stroke="#2b2b2b" stroke-width="1"/>
<line x1="50.40" y1="316.60" x2="52.60" y2="316.60" stroke="#2b2b2b" stroke-width="1"/>
<line x1="50.40" y1="275.70" x2="52.60" y2="275.70" stroke="#2b2b2b" stroke-width="1"/>
<text x="44.30" y="421.80" font-family="Liberation Sans, sans-serif" font-size="8.2" text-anchor="end" fill="#1a1a1a" stroke="#1a1a1a" stroke-width="0.05" >0.1</text>
<text x="44.30" y="380.90" font-family="Liberation Sans, sans-serif" font-size="8.2" text-anchor="end" fill="#1a1a1a" stroke="#1a1a1a" stroke-width="0.05" >0.2</text>
<text x="44.30" y="340.00" font-family="Liberation Sans, sans-serif" font-size="8.2" text-anchor="end" fill="#1a1a1a" stroke="#1a1a1a" stroke-width="0.05" >0.3</text>
<text x="44.30" y="299.10" font-family="Liberation Sans, sans-serif" font-size="8.2" text-anchor="end" fill="#1a1a1a" stroke="#1a1a1a" stroke-width="0.05" >0.4</text>
<text x="44.30" y="258.20" font-family="Liberation Sans, sans-serif" font-size="8.2" text-anchor="end" fill="#1a1a1a" stroke="#1a1a1a" stroke-width="0.05" >0.5</text>
<line x1="52.60" y1="439.30" x2="327.40" y2="439.30" stroke="#2b2b2b" stroke-width="1"/>
<line x1="83.40" y1="439.30" x2="83.40" y2="443.50" stroke="#2b2b2b" stroke-width="1"/>
<line x1="144.40" y1="439.30" x2="144.40" y2="443.50" stroke="#2b2b2b" stroke-width="1"/>
<line x1="205.40" y1="439.30" x2="205.40" y2="443.50" stroke="#2b2b2b" stroke-width="1"/>
<line x1="266.40" y1="439.30" x2="266.40" y2="443.50" stroke="#2b2b2b" stroke-width="1"/>
<line x1="327.40" y1="439.30" x2="327.40" y2="443.50" stroke="#2b2b2b" stroke-width="1"/>
<line x1="52.90" y1="439.30" x2="52.90" y2="441.50" stroke="#2b2b2b" stroke-width="1"/>
<line x1="113.90" y1="439.30" x2="113.90" y2="441.50" stroke="#2b2b2b" stroke-width="1"/>
<line x1="174.90" y1="439.30" x2="174.90" y2="441.50" stroke="#2b2b2b" stroke-width="1"/>
<line x1="235.90" y1="439.30" x2="235.90" y2="441.50" stroke="#2b2b2b" stroke-width="1"/>
<line x1="296.90" y1="439.30" x2="296.90" y2="441.50" stroke="#2b2b2b" stroke-width="1"/>
<text x="83.40" y="451.25" font-family="Liberation Sans, sans-serif" font-size="8.2" text-anchor="middle" fill="#1a1a1a" stroke="#1a1a1a" stroke-width="0.05" >0</text>
<text x="144.40" y="451.25" font-family="Liberation Sans, sans-serif" font-size="8.2" text-anchor="middle" fill="#1a1a1a" stroke="#1a1a1a" stroke-width="0.05" >50</text>
<text x="205.40" y="451.25" font-family="Liberation Sans, sans-serif" font-size="8.2" text-anchor="middle" fill="#1a1a1a" stroke="#1a1a1a" stroke-width="0.05" >100</text>
<text x="266.40" y="451.25" font-family="Liberation Sans, sans-serif" font-size="8.2" text-anchor="middle" fill="#1a1a1a" stroke="#1a1a1a" stroke-width="0.05" >150</text>
<text x="327.40" y="451.25" font-family="Liberation Sans, sans-serif" font-size="8.2" text-anchor="middle" fill="#1a1a1a" stroke="#1a1a1a" stroke-width="0.05" >200</text>
<text x="189.80" y="464.80" font-family="Liberation Sans, sans-serif" font-size="9.6" text-anchor="middle" fill="#1a1a1a" stroke="#1a1a1a" stroke-width="0.2" textLength="42.6" lengthAdjust="spacingAndGlyphs" >Residues</text>
<text x="0.00" y="0.00" font-family="Liberation Sans, sans-serif" font-size="8.6" text-anchor="middle" fill="#1a1a1a" stroke="#1a1a1a" stroke-width="0.2" textLength="23.8" lengthAdjust="spacingAndGlyphs" transform="translate(17.0,345.5) rotate(-90) scale(1,1.2)">RMSF</text>
<text x="1.0" y="258.4" font-family="Liberation Serif, serif" font-weight="bold" font-size="14.6" fill="#111" textLength="20.4" lengthAdjust="spacingAndGlyphs">(C)</text>
<rect x="76.4" y="276.6" width="122.6" height="10.5" fill="#fff" stroke="#8a8a8a" stroke-width="0.9"/>
<line x1="83.60" y1="282.50" x2="107.70" y2="282.50" stroke="#222" stroke-width="1.1"/>
<text x="111.50" y="285.80" font-family="Liberation Sans, sans-serif" font-size="9.4" text-anchor="start" fill="#1a1a1a" stroke="#1a1a1a" stroke-width="0.2" textLength="82.1" lengthAdjust="spacingAndGlyphs" >Vaccine-modelled</text>
<path d="M83.70,389.20 L84.60,405.50 L85.70,407.70 L86.70,405.50 L87.90,399.60 L89.10,399.60 L90.10,404.00 L91.60,407.70 L92.60,408.50 L94.10,414.40 L95.60,419.60 L97.50,415.90 L99.80,412.20 L101.50,406.20 L102.40,401.80 L104.20,400.30 L105.70,396.60 L106.40,389.20 L107.20,377.30 L108.10,349.60 L109.30,354.00 L110.30,359.80 L111.30,353.40 L112.20,330.50 L112.80,316.50 L114.10,312.00 L114.70,316.50 L115.40,330.50 L116.40,349.60 L117.60,384.70 L119.10,391.40 L120.30,393.60 L121.30,398.10 L122.30,404.00 L123.50,403.30 L125.00,389.20 L126.20,368.40 L127.20,360.20 L128.30,361.70 L129.50,374.30 L131.00,395.10 L132.10,405.50 L133.90,398.80 L135.20,401.80 L136.70,392.10 L137.70,393.60 L138.60,391.40 L139.20,392.10 L140.10,385.40 L140.70,392.10 L141.60,414.40 L142.60,419.60 L144.10,418.90 L145.10,417.40 L146.00,418.10 L147.10,407.70 L148.10,406.20 L149.30,407.70 L150.80,406.20 L152.30,410.00 L153.80,416.60 L155.00,418.90 L156.00,414.40 L157.50,410.00 L159.00,405.50 L160.40,402.50 L161.60,396.60 L162.70,398.80 L163.90,404.80 L164.90,407.70 L166.40,404.80 L167.90,406.20 L169.40,406.20 L170.80,407.70 L172.30,413.70 L173.80,411.40 L175.30,402.50 L176.80,399.60 L178.30,406.20 L179.80,410.00 L181.20,417.40 L182.70,420.40 L184.20,414.40 L185.70,410.00 L186.70,405.50 L187.70,410.00 L188.70,406.20 L190.20,415.90 L191.70,404.00 L192.70,400.30 L193.90,405.50 L195.10,407.00 L196.60,416.60 L197.60,410.70 L199.10,399.60 L201.30,395.10 L202.50,380.20 L203.70,362.40 L205.00,374.30 L207.30,385.40 L209.10,381.00 L210.00,381.00 L211.10,363.20 L212.50,374.30 L214.00,390.60 L215.90,402.50 L217.40,389.90 L219.50,389.20 L220.90,381.70 L222.10,386.20 L223.30,401.00 L225.80,407.00 L228.10,403.30 L231.00,390.60 L233.30,394.40 L235.30,372.00 L236.50,365.80 L237.70,371.00 L238.70,365.80 L239.60,348.00 L240.30,329.00 L242.60,315.60 L243.70,291.90 L244.90,286.20 L246.00,286.20 L246.80,291.90 L247.80,306.70 L249.30,321.60 L250.30,345.00 L251.30,373.20 L253.60,383.60 L255.00,393.30 L256.50,382.10 L258.30,345.00 L259.70,333.50 L261.20,321.60 L262.40,335.00 L263.50,355.40 L264.70,352.40 L266.20,371.70 L267.70,391.00 L268.90,394.00 L270.60,374.70 L272.10,356.90 L274.40,350.20 L275.80,357.60 L277.80,359.10 L279.60,377.70 L281.00,395.50 L282.20,404.40 L283.30,397.70 L284.80,397.70 L286.20,379.20 L287.20,375.40 L288.30,376.20 L289.20,388.10 L290.60,378.40 L292.10,382.10 L293.90,383.60 L295.40,388.10 L296.90,391.00 L298.10,397.00 L299.10,402.90 L300.10,391.00 L301.00,374.70 L301.60,361.30 L302.50,364.30 L303.60,371.70 L304.60,362.80 L305.50,354.70" fill="none" stroke="#000" stroke-width="1.2" stroke-linejoin="round"/>
<line x1="387.80" y1="441.85" x2="387.80" y2="258.15" stroke="#2b2b2b" stroke-width="1"/>
<line x1="383.60" y1="433.50" x2="387.80" y2="433.50" stroke="#2b2b2b" stroke-width="1"/>
<line x1="383.60" y1="416.80" x2="387.80" y2="416.80" stroke="#2b2b2b" stroke-width="1"/>
<line x1="383.60" y1="400.10" x2="387.80" y2="400.10" stroke="#2b2b2b" stroke-width="1"/>
<line x1="383.60" y1="383.40" x2="387.80" y2="383.40" stroke="#2b2b2b" stroke-width="1"/>
<line x1="383.60" y1="366.70" x2="387.80" y2="366.70" stroke="#2b2b2b" stroke-width="1"/>
<line x1="383.60" y1="350.00" x2="387.80" y2="350.00" stroke="#2b2b2b" stroke-width="1"/>
<line x1="383.60" y1="333.30" x2="387.80" y2="333.30" stroke="#2b2b2b" stroke-width="1"/>
<line x1="383.60" y1="316.60" x2="387.80" y2="316.60" stroke="#2b2b2b" stroke-width="1"/>
<line x1="383.60" y1="299.90" x2="387.80" y2="299.90" stroke="#2b2b2b" stroke-width="1"/>
<line x1="383.60" y1="283.20" x2="387.80" y2="283.20" stroke="#2b2b2b" stroke-width="1"/>
<line x1="383.60" y1="266.50" x2="387.80" y2="266.50" stroke="#2b2b2b" stroke-width="1"/>
<line x1="385.60" y1="441.85" x2="387.80" y2="441.85" stroke="#2b2b2b" stroke-width="1"/>
<line x1="385.60" y1="425.15" x2="387.80" y2="425.15" stroke="#2b2b2b" stroke-width="1"/>
<line x1="385.60" y1="408.45" x2="387.80" y2="408.45" stroke="#2b2b2b" stroke-width="1"/>
<line x1="385.60" y1="391.75" x2="387.80" y2="391.75" stroke="#2b2b2b" stroke-width="1"/>
<line x1="385.60" y1="375.05" x2="387.80" y2="375.05" stroke="#2b2b2b" stroke-width="1"/>
<line x1="385.60" y1="358.35" x2="387.80" y2="358.35" stroke="#2b2b2b" stroke-width="1"/>
<line x1="385.60" y1="341.65" x2="387.80" y2="341.65" stroke="#2b2b2b" stroke-width="1"/>
<line x1="385.60" y1="324.95" x2="387.80" y2="324.95" stroke="#2b2b2b" stroke-width="1"/>
<line x1="385.60" y1="308.25" x2="387.80" y2="308.25" stroke="#2b2b2b" stroke-width="1"/>
<line x1="385.60" y1="291.55" x2="387.80" y2="291.55" stroke="#2b2b2b" stroke-width="1"/>
<line x1="385.60" y1="274.85" x2="387.80" y2="274.85" stroke="#2b2b2b" stroke-width="1"/>
<line x1="385.60" y1="258.15" x2="387.80" y2="258.15" stroke="#2b2b2b" stroke-width="1"/>
<text x="380.10" y="436.45" font-family="Liberation Sans, sans-serif" font-size="8.2" text-anchor="end" fill="#1a1a1a" stroke="#1a1a1a" stroke-width="0.05" textLength="12.31" lengthAdjust="spacingAndGlyphs" >0.0</text>
<text x="380.10" y="419.75" font-family="Liberation Sans, sans-serif" font-size="8.2" text-anchor="end" fill="#1a1a1a" stroke="#1a1a1a" stroke-width="0.05" textLength="12.31" lengthAdjust="spacingAndGlyphs" >0.1</text>
<text x="380.10" y="403.05" font-family="Liberation Sans, sans-serif" font-size="8.2" text-anchor="end" fill="#1a1a1a" stroke="#1a1a1a" stroke-width="0.05" textLength="12.31" lengthAdjust="spacingAndGlyphs" >0.2</text>
<text x="380.10" y="386.35" font-family="Liberation Sans, sans-serif" font-size="8.2" text-anchor="end" fill="#1a1a1a" stroke="#1a1a1a" stroke-width="0.05" textLength="12.31" lengthAdjust="spacingAndGlyphs" >0.3</text>
<text x="380.10" y="369.65" font-family="Liberation Sans, sans-serif" font-size="8.2" text-anchor="end" fill="#1a1a1a" stroke="#1a1a1a" stroke-width="0.05" textLength="12.31" lengthAdjust="spacingAndGlyphs" >0.4</text>
<text x="380.10" y="352.95" font-family="Liberation Sans, sans-serif" font-size="8.2" text-anchor="end" fill="#1a1a1a" stroke="#1a1a1a" stroke-width="0.05" textLength="12.31" lengthAdjust="spacingAndGlyphs" >0.5</text>
<text x="380.10" y="336.25" font-family="Liberation Sans, sans-serif" font-size="8.2" text-anchor="end" fill="#1a1a1a" stroke="#1a1a1a" stroke-width="0.05" textLength="12.31" lengthAdjust="spacingAndGlyphs" >0.6</text>
<text x="380.10" y="319.55" font-family="Liberation Sans, sans-serif" font-size="8.2" text-anchor="end" fill="#1a1a1a" stroke="#1a1a1a" stroke-width="0.05" textLength="12.31" lengthAdjust="spacingAndGlyphs" >0.7</text>
<text x="380.10" y="302.85" font-family="Liberation Sans, sans-serif" font-size="8.2" text-anchor="end" fill="#1a1a1a" stroke="#1a1a1a" stroke-width="0.05" textLength="12.31" lengthAdjust="spacingAndGlyphs" >0.8</text>
<text x="380.10" y="286.15" font-family="Liberation Sans, sans-serif" font-size="8.2" text-anchor="end" fill="#1a1a1a" stroke="#1a1a1a" stroke-width="0.05" textLength="12.31" lengthAdjust="spacingAndGlyphs" >0.9</text>
<text x="380.10" y="269.45" font-family="Liberation Sans, sans-serif" font-size="8.2" text-anchor="end" fill="#1a1a1a" stroke="#1a1a1a" stroke-width="0.05" textLength="12.31" lengthAdjust="spacingAndGlyphs" >1.0</text>
<line x1="387.80" y1="442.00" x2="585.00" y2="442.00" stroke="#2b2b2b" stroke-width="1"/>
<line x1="590.50" y1="442.00" x2="673.40" y2="442.00" stroke="#2b2b2b" stroke-width="1"/>
<line x1="387.90" y1="442.00" x2="387.90" y2="446.20" stroke="#2b2b2b" stroke-width="1"/>
<line x1="419.30" y1="442.00" x2="419.30" y2="446.20" stroke="#2b2b2b" stroke-width="1"/>
<line x1="450.70" y1="442.00" x2="450.70" y2="446.20" stroke="#2b2b2b" stroke-width="1"/>
<line x1="482.10" y1="442.00" x2="482.10" y2="446.20" stroke="#2b2b2b" stroke-width="1"/>
<line x1="513.50" y1="442.00" x2="513.50" y2="446.20" stroke="#2b2b2b" stroke-width="1"/>
<line x1="544.90" y1="442.00" x2="544.90" y2="446.20" stroke="#2b2b2b" stroke-width="1"/>
<line x1="576.30" y1="442.00" x2="576.30" y2="446.20" stroke="#2b2b2b" stroke-width="1"/>
<line x1="609.60" y1="442.00" x2="609.60" y2="446.20" stroke="#2b2b2b" stroke-width="1"/>
<line x1="643.40" y1="442.00" x2="643.40" y2="446.20" stroke="#2b2b2b" stroke-width="1"/>
<line x1="673.40" y1="442.00" x2="673.40" y2="446.20" stroke="#2b2b2b" stroke-width="1"/>
<line x1="403.60" y1="442.00" x2="403.60" y2="444.20" stroke="#2b2b2b" stroke-width="1"/>
<line x1="435.00" y1="442.00" x2="435.00" y2="444.20" stroke="#2b2b2b" stroke-width="1"/>
<line x1="466.40" y1="442.00" x2="466.40" y2="444.20" stroke="#2b2b2b" stroke-width="1"/>
<line x1="497.80" y1="442.00" x2="497.80" y2="444.20" stroke="#2b2b2b" stroke-width="1"/>
<line x1="529.20" y1="442.00" x2="529.20" y2="444.20" stroke="#2b2b2b" stroke-width="1"/>
<line x1="560.60" y1="442.00" x2="560.60" y2="444.20" stroke="#2b2b2b" stroke-width="1"/>
<line x1="627.60" y1="442.00" x2="627.60" y2="444.20" stroke="#2b2b2b" stroke-width="1"/>
<line x1="659.00" y1="442.00" x2="659.00" y2="444.20" stroke="#2b2b2b" stroke-width="1"/>
<line x1="582.60" y1="445.60" x2="587.00" y2="438.40" stroke="#2b2b2b" stroke-width="1"/>
<line x1="587.80" y1="445.60" x2="592.20" y2="438.40" stroke="#2b2b2b" stroke-width="1"/>
<text x="387.90" y="453.95" font-family="Liberation Sans, sans-serif" font-size="8.2" text-anchor="middle" fill="#1a1a1a" stroke="#1a1a1a" stroke-width="0.05" textLength="4.83" lengthAdjust="spacingAndGlyphs" >0</text>
<text x="419.30" y="453.95" font-family="Liberation Sans, sans-serif" font-size="8.2" text-anchor="middle" fill="#1a1a1a" stroke="#1a1a1a" stroke-width="0.05" textLength="14.5" lengthAdjust="spacingAndGlyphs" >100</text>
<text x="450.70" y="453.95" font-family="Liberation Sans, sans-serif" font-size="8.2" text-anchor="middle" fill="#1a1a1a" stroke="#1a1a1a" stroke-width="0.05" textLength="14.5" lengthAdjust="spacingAndGlyphs" >200</text>
<text x="482.10" y="453.95" font-family="Liberation Sans, sans-serif" font-size="8.2" text-anchor="middle" fill="#1a1a1a" stroke="#1a1a1a" stroke-width="0.05" textLength="14.5" lengthAdjust="spacingAndGlyphs" >300</text>
<text x="513.50" y="453.95" font-family="Liberation Sans, sans-serif" font-size="8.2" text-anchor="middle" fill="#1a1a1a" stroke="#1a1a1a" stroke-width="0.05" textLength="14.5" lengthAdjust="spacingAndGlyphs" >400</text>
<text x="544.90" y="453.95" font-family="Liberation Sans, sans-serif" font-size="8.2" text-anchor="middle" fill="#1a1a1a" stroke="#1a1a1a" stroke-width="0.05" textLength="14.5" lengthAdjust="spacingAndGlyphs" >500</text>
<text x="576.30" y="453.95" font-family="Liberation Sans, sans-serif" font-size="8.2" text-anchor="middle" fill="#1a1a1a" stroke="#1a1a1a" stroke-width="0.05" textLength="14.5" lengthAdjust="spacingAndGlyphs" >600</text>
<text x="609.60" y="453.95" font-family="Liberation Sans, sans-serif" font-size="8.2" text-anchor="middle" fill="#1a1a1a" stroke="#1a1a1a" stroke-width="0.05" textLength="14.5" lengthAdjust="spacingAndGlyphs" >700</text>
<text x="643.40" y="453.95" font-family="Liberation Sans, sans-serif" font-size="8.2" text-anchor="middle" fill="#1a1a1a" stroke="#1a1a1a" stroke-width="0.05" textLength="14.5" lengthAdjust="spacingAndGlyphs" >800</text>
<text x="673.40" y="453.95" font-family="Liberation Sans, sans-serif" font-size="8.2" text-anchor="middle" fill="#1a1a1a" stroke="#1a1a1a" stroke-width="0.05" textLength="14.5" lengthAdjust="spacingAndGlyphs" >900</text>
<text x="530.60" y="467.60" font-family="Liberation Sans, sans-serif" font-size="9.6" text-anchor="middle" fill="#1a1a1a" stroke="#1a1a1a" stroke-width="0.2" textLength="73.4" lengthAdjust="spacingAndGlyphs" >No of Residues</text>
<text x="0.00" y="0.00" font-family="Liberation Sans, sans-serif" font-size="8.6" text-anchor="middle" fill="#1a1a1a" stroke="#1a1a1a" stroke-width="0.2" textLength="24.2" lengthAdjust="spacingAndGlyphs" transform="translate(350.9,350.9) rotate(-90) scale(1,1.12)">RMSF</text>
<text x="334.2" y="265.8" font-family="Liberation Serif, serif" font-weight="bold" font-size="14.6" fill="#111" textLength="20.4" lengthAdjust="spacingAndGlyphs">(D)</text>
<rect x="426.4" y="300.4" width="122.1" height="33.1" fill="#fff" stroke="#8a8a8a" stroke-width="0.9"/>
<line x1="440.00" y1="312.80" x2="464.80" y2="312.80" stroke="#333" stroke-width="1.3"/>
<line x1="440.00" y1="324.00" x2="464.80" y2="324.00" stroke="#d03030" stroke-width="1.3"/>
<text x="468.60" y="316.40" font-family="Liberation Sans, sans-serif" font-size="9.8" text-anchor="start" fill="#1a1a1a" stroke="#1a1a1a" stroke-width="0.2" textLength="67.9" lengthAdjust="spacingAndGlyphs" >TLR3-Vaccine</text>
<text x="468.60" y="326.80" font-family="Liberation Sans, sans-serif" font-size="9.8" text-anchor="start" fill="#1a1a1a" stroke="#1a1a1a" stroke-width="0.2" textLength="67.9" lengthAdjust="spacingAndGlyphs" >TLR4-Vaccine</text>
<path d="M397.10,395.10 L397.70,412.90 L398.90,416.60 L400.40,412.20 L401.90,415.20 L403.40,405.50 L404.90,417.40 L406.30,418.90 L407.80,412.90 L409.30,408.50 L410.80,413.70 L412.30,420.40 L413.80,417.40 L415.20,412.20 L416.70,411.40 L418.20,412.90 L419.70,420.40 L421.90,413.70 L424.20,412.20 L426.40,418.90 L428.60,415.20 L430.80,420.40 L433.10,415.20 L434.60,417.40 L437.50,420.40 L440.50,414.40 L443.50,423.30 L446.40,418.90 L447.10,417.70 L449.20,419.30 L451.40,424.60 L453.50,419.80 L455.60,420.90 L457.70,424.60 L459.90,422.50 L463.10,422.00 L466.20,424.10 L469.40,422.50 L472.60,419.30 L475.80,423.50 L479.00,419.30 L482.20,421.40 L485.90,417.70 L488.50,420.40 L490.70,423.50 L492.80,411.90 L494.40,420.40 L497.00,422.50 L500.20,420.40 L503.20,422.50 L506.40,424.60 L508.00,415.00 L509.60,423.50 L513.80,422.50 L517.00,424.60 L520.20,417.70 L522.30,423.50 L525.50,420.40 L528.50,412.90 L530.30,423.50 L534.00,421.40 L538.20,425.10 L541.90,414.00 L543.50,416.60 L546.20,425.10 L548.50,415.50 L551.00,410.80 L553.60,425.10 L555.80,415.00 L557.30,403.50 L558.80,408.00 L560.80,413.50 L563.50,424.60 L566.00,416.40 L568.20,412.00 L570.40,423.90 L573.40,416.40 L575.60,410.50 L577.90,422.40 L580.10,416.40 L581.60,408.30 L583.10,412.00 L584.60,410.50" fill="none" stroke="#000" stroke-width="1.5" stroke-linejoin="round"/>
<path d="M590.60,416.40 L591.70,421.60 L593.20,416.40 L595.40,412.00 L596.90,407.50 L598.10,389.70 L599.10,382.30 L600.10,389.70 L601.00,404.60 L602.10,413.50 L603.60,409.00 L605.00,416.40 L607.30,407.50 L609.10,410.50 L611.00,416.40 L612.90,413.50 L614.70,403.10 L616.20,409.00 L617.70,419.40 L619.20,420.90 L620.60,418.70 L622.90,412.00 L625.00,413.60 L626.50,403.20 L628.30,377.10 L629.50,397.20 L631.00,412.10 L632.40,403.20 L633.90,409.10 L635.40,404.60 L636.90,413.60 L638.40,407.60 L639.90,410.60 L641.40,409.10 L642.90,413.60 L644.30,416.50 L645.80,422.50 L647.30,415.10 L648.80,404.60 L650.00,388.30 L651.00,397.20 L652.10,407.60 L653.30,415.10 L654.50,412.80" fill="none" stroke="#000" stroke-width="1.5" stroke-linejoin="round"/>
<path d="M396.20,363.20 L396.70,390.60 L397.40,395.10 L398.20,392.10 L399.20,398.10 L400.40,395.80 L401.90,399.60 L403.40,397.30 L404.90,402.50 L406.30,399.60 L407.80,402.50 L409.30,401.00 L410.80,399.60 L412.30,405.50 L413.80,402.50 L416.00,407.70 L417.50,404.00 L419.00,410.00 L420.40,406.20 L421.90,411.40 L423.90,406.20 L425.60,412.90 L427.90,411.40 L429.40,415.90 L431.60,411.40 L433.10,401.80 L434.10,413.70 L436.00,418.90 L438.30,415.90 L440.50,412.20 L442.70,418.90 L445.00,417.40 L447.10,418.20 L449.20,411.90 L451.40,405.00 L452.40,410.80 L453.50,420.40 L455.60,419.30 L457.70,412.90 L458.80,421.40 L459.90,414.00 L461.50,420.40 L462.50,415.00 L464.10,420.40 L466.20,414.00 L467.80,421.40 L468.90,420.40 L471.00,412.90 L472.60,417.20 L474.70,415.00 L476.30,418.20 L477.90,422.50 L480.00,418.20 L482.20,420.40 L484.80,417.20 L486.90,421.40 L489.10,411.30 L490.70,415.00 L492.30,422.50 L494.40,416.10 L496.00,419.30 L498.10,417.20 L500.20,423.50 L502.10,415.00 L503.70,420.40 L506.40,424.60 L509.60,420.40 L512.70,421.40 L514.90,424.60 L518.10,420.90 L521.20,424.60 L525.50,419.30 L528.70,423.50 L531.90,417.70 L535.00,422.50 L538.20,423.50 L540.90,417.20 L543.50,422.50 L546.70,419.30 L548.80,412.90 L551.00,417.20 L553.10,420.40 L555.20,416.10 L557.20,411.60 L559.30,417.90 L561.50,409.00 L563.00,399.40 L564.50,403.10 L566.70,413.50 L569.00,412.00 L570.40,386.70 L571.50,398.60 L572.70,403.10 L573.90,400.10 L575.30,404.60 L576.80,412.00 L577.90,392.70 L578.90,374.90 L580.10,368.90 L581.30,374.90 L582.80,383.80 L583.80,394.20 L585.00,407.50" fill="none" stroke="#e60000" stroke-width="1.5" stroke-linejoin="round"/>
<path d="M590.60,410.50 L592.10,417.90 L593.90,415.00 L596.10,418.70 L598.40,420.90 L600.60,413.50 L602.50,419.40 L604.30,412.00 L606.50,420.90 L608.80,397.10 L610.00,392.70 L611.00,401.60 L612.20,368.40 L613.50,358.20 L614.10,359.50 L615.40,373.50 L616.20,389.70 L617.40,394.20 L618.40,404.60 L619.90,413.50 L621.40,398.60 L623.60,382.30 L625.10,389.70 L626.50,410.60 L628.00,403.20 L629.50,404.60 L631.00,407.60 L632.70,389.80 L633.90,371.00 L634.70,352.50 L635.50,364.60 L636.60,389.80 L637.60,400.20 L639.10,394.20 L640.60,403.20 L642.10,404.60 L643.60,410.60 L645.10,416.50 L646.60,413.60 L648.10,409.10 L649.60,400.20 L650.60,382.30 L651.50,368.90 L652.30,330.00 L653.00,300.00 L653.80,272.40" fill="none" stroke="#e60000" stroke-width="1.5" stroke-linejoin="round"/>
</svg>
</body></html>
